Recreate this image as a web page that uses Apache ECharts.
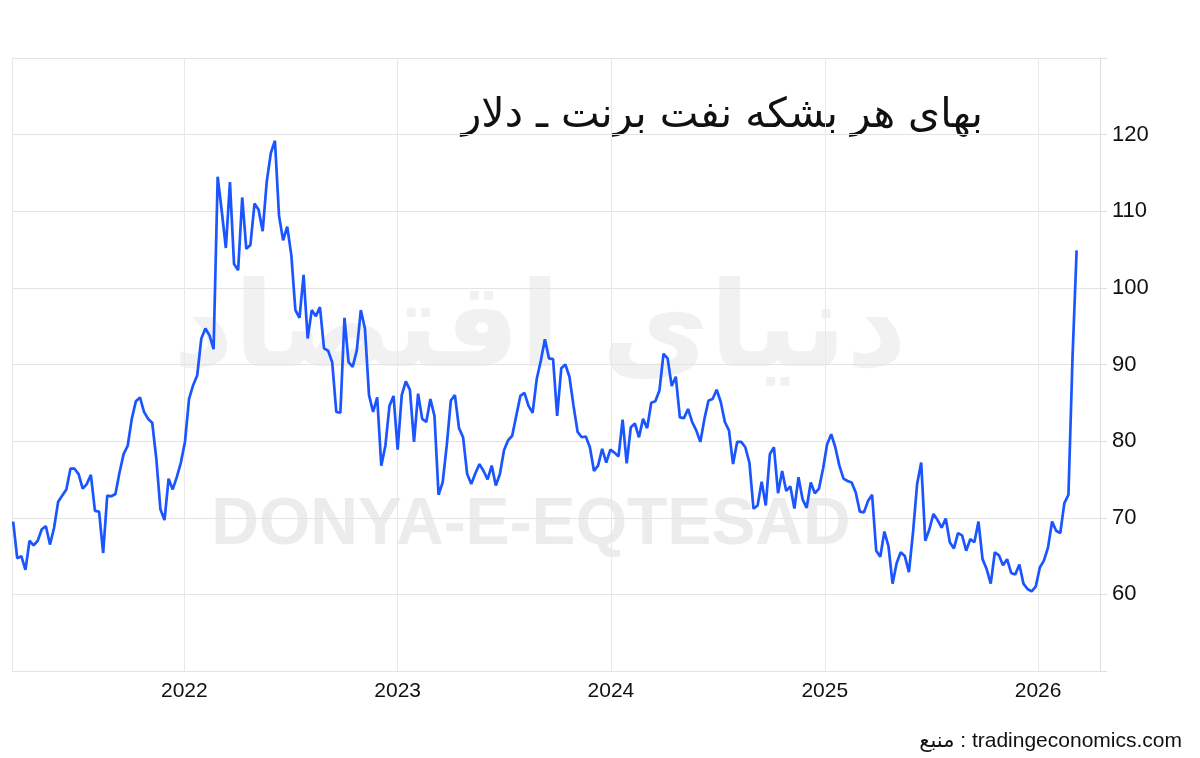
<!DOCTYPE html>
<html>
<head>
<meta charset="utf-8">
<title>Brent</title>
<script src="https://cdn.jsdelivr.net/npm/echarts@6/dist/echarts.min.js"></script>
<style>
  html, body { margin: 0; padding: 0; background: #fff; }
  #chart { width: 1200px; height: 758px; }
</style>
</head>
<body>
<div id="chart"></div>
<script>
// weekly Brent close, USD per barrel
const firstWeek = '2021-03-14'

const brent2021to2022 = [
  69.5, 64.7, 65.0, 63.2, 67.0, 66.4, 67.0, 68.5, 68.9, 66.5,
  68.7, 72.1, 72.9, 73.7, 76.4, 76.4, 75.7, 73.8, 74.4, 75.6,
  70.9, 70.8, 65.4, 72.9, 72.8, 73.1, 75.9, 78.3, 79.4, 82.9,
  85.2, 85.7, 83.8, 82.9, 82.4, 77.7, 71.1, 69.7, 75.1, 73.7,
  75.3, 77.2, 79.9, 85.5, 87.3, 88.6, 93.4, 94.7, 93.8, 92.0,
  114.5, 110.0, 105.2, 113.8, 103.1, 102.3, 111.8, 105.1, 105.6, 111.0,
  110.2, 107.4, 113.9, 117.6, 119.2, 109.4, 106.2, 108.0, 104.3, 97.1,
  96.1, 101.7, 93.4, 97.1, 96.3, 97.5, 92.1, 91.8, 90.3, 83.8,
  83.7, 96.1, 90.3, 89.7, 91.8, 97.1, 94.7
]

const brent2022to2024 = [
  86.0, 83.8, 85.7, 76.8, 79.4, 84.6, 85.9, 78.9, 86.0, 87.8,
  86.7, 79.9, 86.2, 82.9, 82.5, 85.5, 83.3, 73.0, 74.6, 79.4,
  85.3, 86.0, 81.7, 80.5, 75.7, 74.4, 75.8, 77.0, 76.1, 75.0,
  76.8, 74.2, 75.7, 78.8, 80.1, 80.7, 83.3, 85.9, 86.3, 84.6,
  83.7, 88.1, 90.5, 93.3, 90.8, 90.7, 83.3, 89.5, 90.0, 88.4,
  84.6, 81.2, 80.5, 80.6, 79.2, 76.1, 76.8, 79.0, 77.2, 78.9,
  78.5, 78.0, 82.8, 77.1, 81.8, 82.3, 80.5, 82.9, 81.7, 85.0,
  85.2, 86.6, 91.4, 90.8, 87.2, 88.4, 83.1, 83.0, 84.2, 82.5,
  81.4, 79.9, 82.9, 85.3, 85.5, 86.7
]

const brent2024to2026 = [
  85.1, 82.5, 81.4, 77.0, 79.9, 79.9, 79.2, 77.2, 71.2, 71.6,
  74.7, 71.6, 78.3, 79.2, 73.2, 76.1, 73.5, 74.1, 71.2, 75.3,
  72.4, 71.3, 74.6, 73.2, 73.8, 76.4, 79.6, 80.9, 79.2, 76.8,
  75.1, 74.8, 74.6, 73.3, 70.8, 70.7, 72.2, 73.0, 65.7, 64.9,
  68.2, 66.3, 61.4, 64.1, 65.5, 65.0, 62.9, 68.1, 74.4, 77.2,
  67.0, 68.5, 70.5, 69.7, 68.7, 69.9, 66.8, 66.0, 68.0, 67.7,
  65.7, 67.2, 66.8, 69.5, 64.6, 63.3, 61.4, 65.5, 65.1, 63.8,
  64.6, 62.8, 62.6, 63.9, 61.4, 60.7, 60.4, 61.0, 63.5, 64.4,
  66.1, 69.5, 68.3, 68.0, 71.9, 73.0, 91.0, 104.9
]

const yTicks = [60, 70, 80, 90, 100, 110, 120]

const titleText = 'بهای هر بشکه نفت برنت ـ دلار'
const sourceText = 'منبع : tradingeconomics.com'

const WEEK = 7 * 24 * 3600 * 1000
const start = new Date(firstWeek + 'T00:00:00Z').getTime()
const prices = brent2021to2022.concat(brent2022to2024, brent2024to2026)
const seriesData = prices.map((v, i) => [start + i * WEEK, v])

const font = '"Liberation Sans", Arial, "DejaVu Sans", sans-serif'

const chart = echarts.init(document.getElementById('chart'))

chart.setOption({
  backgroundColor: '#fff',
  animation: false,
  grid: {
    left: 12,
    right: 100,
    top: 58,
    bottom: 87
  },
  graphic: [
    {
      // faded logo behind the plot
      type: 'text',
      z: -10,
      x: 540,
      y: 335,
      style: {
        text: 'دنیای اقتصاد',
        font: 'bold 118px "DejaVu Sans", sans-serif',
        fill: '#f1f1f1',
        align: 'center',
        verticalAlign: 'middle'
      }
    },
    {
      type: 'text',
      z: -10,
      x: 531,
      y: 526,
      style: {
        text: 'DONYA-E-EQTESAD',
        font: 'bold 66px ' + font,
        fill: '#ececec',
        align: 'center',
        verticalAlign: 'middle'
      }
    },
    {
      type: 'text',
      x: 983,
      y: 116,
      style: {
        text: titleText,
        font: '41px "DejaVu Sans", sans-serif',
        fill: '#111',
        align: 'right',
        verticalAlign: 'middle'
      }
    },
    {
      type: 'text',
      x: 1182,
      y: 741,
      style: {
        text: sourceText,
        font: '21px ' + font,
        fill: '#111',
        align: 'right',
        verticalAlign: 'middle'
      }
    }
  ],
  xAxis: {
    type: 'time',
    min: '2021-03-12',
    max: '2026-04-17',
    axisLine: { show: false },
    axisTick: { show: false },
    splitLine: { show: true, lineStyle: { color: '#e8e8e8', width: 1 } },
    axisLabel: {
      formatter: '{yyyy}',
      fontFamily: font,
      fontSize: 21,
      color: '#111',
      margin: 10
    }
  },
  yAxis: {
    type: 'value',
    position: 'right',
    min: 50,
    max: 130,
    interval: 10,
    axisLine: { show: true, lineStyle: { color: '#dddddd' } },
    axisTick: { show: true, length: 7, lineStyle: { color: '#dddddd' } },
    splitLine: { show: true, lineStyle: { color: '#e3e3e3' } },
    axisLabel: {
      fontFamily: font,
      fontSize: 22,
      color: '#111',
      margin: 12,
      formatter: v => (yTicks.indexOf(v) >= 0 ? String(v) : '')
    }
  },
  series: [{
    type: 'line',
    data: seriesData,
    showSymbol: false,
    lineStyle: { color: '#1a55ff', width: 2.7 },
    z: 5
  }]
})
</script>
</body>
</html>
